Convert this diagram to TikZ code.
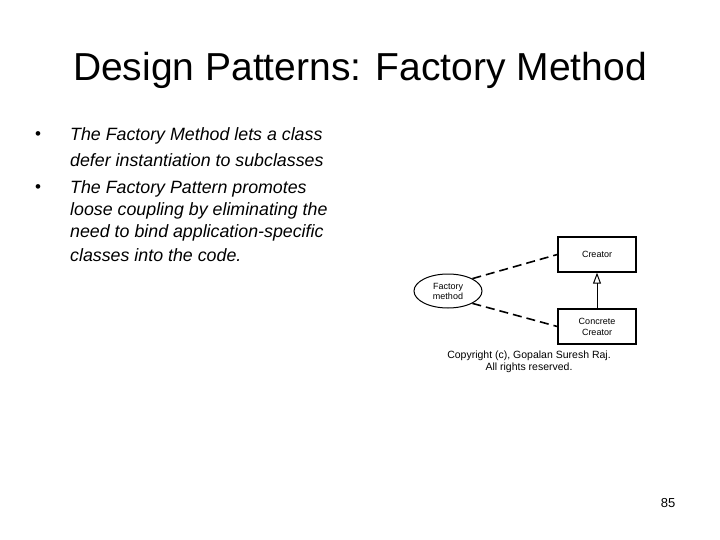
\documentclass[tikz,border=0pt]{standalone}
\usepackage{fontspec}
\setmainfont{Liberation Sans}
\usetikzlibrary{shapes.geometric,arrows.meta}
\begin{document}
\begin{tikzpicture}[x=1pt,y=-1pt,
  body/.style={anchor=west,font=\fontsize{17.8}{20}\selectfont\itshape,inner sep=0},
  bul/.style={anchor=center,font=\fontsize{17}{18}\selectfont,inner sep=0},
  cls/.style={draw,line width=1.3pt,minimum width=78pt,minimum height=35pt,font=\fontsize{9}{11}\selectfont,align=center},
  dep/.style={line width=1.6pt,dash pattern=on 9pt off 5pt}]
\useasboundingbox (0,0) rectangle (720,540);
\node[font=\fontsize{39}{42}\selectfont] (title) at (360,70) {Design Patterns: Factory Method};
\node[bul] (b1) at (38,136) {•};
\node[body] (t1) at (70,136) {The Factory Method lets a class};
\node[body] (t2) at (70,160) {defer instantiation to subclasses};
\node[bul] (b2) at (38,189) {•};
\node[body] (t3) at (70,189) {The Factory Pattern promotes};
\node[body] (t4) at (70,211) {loose coupling by eliminating the};
\node[body] (t5) at (70,233) {need to bind application-specific};
\node[body] (t6) at (70,255) {classes into the code.};
\node[cls] (creator) at (597,254.5) {Creator};
\node[cls] (concrete) at (597,326.5) {Concrete\\Creator};
\node[draw,ellipse,line width=1pt,minimum width=68pt,minimum height=34pt,inner sep=0,font=\fontsize{9}{10}\selectfont,align=center] (fm) at (448,291) {Factory\\method};
\draw[line width=1pt,-{Triangle[open,length=11pt,width=8pt]}] (concrete) -- (creator);
\draw[dep] (fm.north east) -- (creator.west);
\draw[dep] (fm.south east) -- (concrete.west);
\node[font=\fontsize{10.5}{11.5}\selectfont,align=center] (copy) at (529,362) {Copyright (c), Gopalan Suresh Raj.\\All rights reserved.};
\node[font=\fontsize{13}{15}\selectfont] (num) at (668,503) {85};
\end{tikzpicture}
\end{document}
